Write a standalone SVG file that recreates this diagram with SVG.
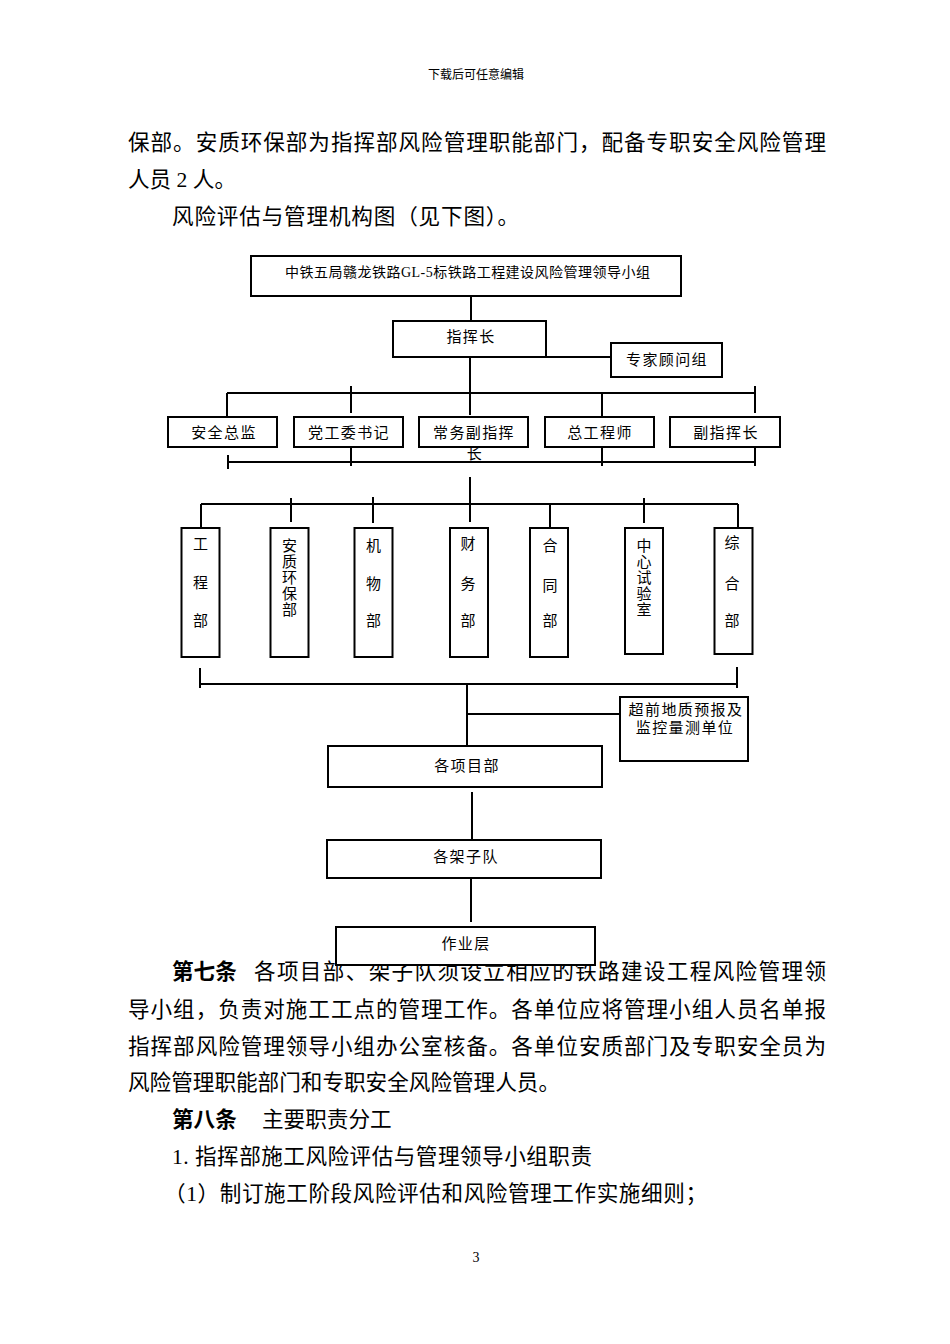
<svg xmlns="http://www.w3.org/2000/svg" width="950" height="1344" viewBox="0 0 950 1344">
<style>
.body{font-family:"Liberation Serif","Noto Sans CJK SC",serif;font-size:21.6px;fill:#000}
.bold{font-weight:bold}
.box{fill:#fff;stroke:#000;stroke-width:2}
.lbl{font-family:"Liberation Serif","Noto Sans CJK SC",serif;font-size:15px;letter-spacing:1.4px;fill:#000;text-anchor:middle}
.v{font-family:"Liberation Serif","Noto Sans CJK SC",serif;font-size:15px;fill:#000;text-anchor:middle}
#connectors line{stroke:#000;stroke-width:2}
</style>
<rect x="0" y="0" width="950" height="1344" fill="#fff"/>
<text x="476" y="79" font-family="Noto Sans CJK SC, sans-serif" font-size="12" text-anchor="middle">下载后可任意编辑</text>
<text class="body" x="128" y="150" textLength="698" lengthAdjust="spacing">保部。安质环保部为指挥部风险管理职能部门，配备专职安全风险管理</text>
<text class="body" x="128" y="187">人员 2 人。</text>
<text class="body" x="172" y="224" textLength="347" lengthAdjust="spacing">风险评估与管理机构图（见下图）。</text>

<g id="connectors">
<line x1="471" y1="296" x2="471" y2="321"/>
<line x1="470" y1="357" x2="470" y2="415"/>
<line x1="470" y1="357" x2="611" y2="357"/>
<line x1="227" y1="393" x2="755" y2="393"/>
<line x1="227" y1="393" x2="227" y2="417"/>
<line x1="351" y1="386" x2="351" y2="413"/>
<line x1="602" y1="393" x2="602" y2="417"/>
<line x1="755" y1="386" x2="755" y2="413"/>
<line x1="228" y1="462" x2="755" y2="462"/>
<line x1="228" y1="455" x2="228" y2="469"/>
<line x1="351" y1="447" x2="351" y2="466"/>
<line x1="602" y1="447" x2="602" y2="466"/>
<line x1="755" y1="447" x2="755" y2="466"/>
<line x1="470" y1="477" x2="470" y2="522"/>
<line x1="201" y1="504" x2="738" y2="504"/>
<line x1="201" y1="504" x2="201" y2="528"/>
<line x1="291" y1="498" x2="291" y2="522"/>
<line x1="373" y1="497" x2="373" y2="523"/>
<line x1="550" y1="504" x2="550" y2="528"/>
<line x1="644" y1="498" x2="644" y2="523"/>
<line x1="738" y1="504" x2="738" y2="528"/>
<line x1="200" y1="684" x2="737" y2="684"/>
<line x1="200" y1="668" x2="200" y2="688"/>
<line x1="737" y1="667" x2="737" y2="688"/>
<line x1="467" y1="684" x2="467" y2="746"/>
<line x1="467" y1="714" x2="620" y2="714"/>
<line x1="472" y1="792" x2="472" y2="840"/>
<line x1="471" y1="878" x2="471" y2="922"/>
</g>

<g id="n-top"><rect class="box" x="251" y="256" width="430" height="40"/>
<text x="285" y="277" font-family="Liberation Serif, Noto Sans CJK SC, serif" font-size="14" textLength="365" lengthAdjust="spacing">中铁五局赣龙铁路GL-5标铁路工程建设风险管理领导小组</text></g>
<g id="n-zhihuizhang"><rect class="box" x="393" y="321" width="153" height="36"/><text class="lbl" x="471" y="342">指挥长</text></g>
<g id="n-zhuanjia"><rect class="box" x="611" y="343" width="111" height="34"/><text class="lbl" x="667" y="365">专家顾问组</text></g>

<g id="n-anquan"><rect class="box" x="168" y="417" width="109" height="30"/><text class="lbl" x="224" y="438">安全总监</text></g>
<g id="n-danggong"><rect class="box" x="294" y="417" width="109" height="30"/><text class="lbl" x="349" y="438">党工委书记</text></g>
<g id="n-changwu"><rect class="box" x="419" y="417" width="109" height="30"/><text class="lbl" x="474" y="438">常务副指挥</text><text class="lbl" x="475" y="459">长</text></g>
<g id="n-zonggong"><rect class="box" x="545" y="417" width="109" height="30"/><text class="lbl" x="600" y="438">总工程师</text></g>
<g id="n-fuzhihui"><rect class="box" x="670" y="417" width="110" height="30"/><text class="lbl" x="726" y="438">副指挥长</text></g>

<g id="n-gongcheng"><rect class="box" x="181.5" y="528" width="38" height="129"/><text class="v"><tspan x="200.5" y="548.5">工</tspan><tspan x="200.5" y="587.5">程</tspan><tspan x="200.5" y="625.5">部</tspan></text></g>
<g id="n-anzhi"><rect class="box" x="270.5" y="528" width="38" height="129"/><text class="v"><tspan x="289.5" y="550.5">安</tspan><tspan x="289.5" y="566.5">质</tspan><tspan x="289.5" y="582.5">环</tspan><tspan x="289.5" y="598.5">保</tspan><tspan x="289.5" y="614.5">部</tspan></text></g>
<g id="n-jiwu"><rect class="box" x="354.5" y="528" width="38" height="129"/><text class="v"><tspan x="373.5" y="550.5">机</tspan><tspan x="373.5" y="588.5">物</tspan><tspan x="373.5" y="625.5">部</tspan></text></g>
<g id="n-caiwu"><rect class="box" x="450" y="528" width="38" height="129"/><text class="v"><tspan x="468" y="548.5">财</tspan><tspan x="468" y="588.5">务</tspan><tspan x="468" y="625.5">部</tspan></text></g>
<g id="n-hetong"><rect class="box" x="530" y="528" width="38" height="129"/><text class="v"><tspan x="550" y="550.5">合</tspan><tspan x="550" y="590.5">同</tspan><tspan x="550" y="625.5">部</tspan></text></g>
<g id="n-zhongxin"><rect class="box" x="625" y="528" width="38" height="126"/><text class="v"><tspan x="644" y="550.5">中</tspan><tspan x="644" y="566.5">心</tspan><tspan x="644" y="582.5">试</tspan><tspan x="644" y="598.5">验</tspan><tspan x="644" y="614.5">室</tspan></text></g>
<g id="n-zonghe"><rect class="box" x="714.5" y="528" width="38" height="126"/><text class="v"><tspan x="732" y="547.5">综</tspan><tspan x="732" y="588.5">合</tspan><tspan x="732" y="625.5">部</tspan></text></g>

<g id="n-chaoqian"><rect class="box" x="620" y="697" width="128" height="64"/><text class="lbl" x="686" y="715">超前地质预报及</text><text class="lbl" x="685" y="733">监控量测单位</text></g>
<g id="n-xiangmu"><rect class="box" x="328" y="746" width="274" height="41"/><text class="lbl" x="467" y="771">各项目部</text></g>
<g id="n-jiazi"><rect class="box" x="327" y="840" width="274" height="38"/><text class="lbl" x="466" y="862">各架子队</text></g>

<text class="body" x="172" y="979"><tspan class="bold">第七条</tspan></text>
<text class="body" x="254" y="979" textLength="572" lengthAdjust="spacing">各项目部、架子队须设立相应的铁路建设工程风险管理领</text>
<g id="n-zuoye"><rect class="box" x="336" y="927" width="259" height="38"/><text class="lbl" x="466" y="949">作业层</text></g>

<text class="body" x="128" y="1017" textLength="698" lengthAdjust="spacing">导小组，负责对施工工点的管理工作。各单位应将管理小组人员名单报</text>
<text class="body" x="128" y="1054" textLength="698" lengthAdjust="spacing">指挥部风险管理领导小组办公室核备。各单位安质部门及专职安全员为</text>
<text class="body" x="128" y="1090" textLength="432" lengthAdjust="spacing">风险管理职能部门和专职安全风险管理人员。</text>
<text class="body bold" x="172" y="1127">第八条</text>
<text class="body" x="262" y="1127">主要职责分工</text>
<text class="body" x="172" y="1164" textLength="420" lengthAdjust="spacing">1. 指挥部施工风险评估与管理领导小组职责</text>
<text class="body" x="164" y="1201" textLength="543" lengthAdjust="spacing">（1）制订施工阶段风险评估和风险管理工作实施细则；</text>
<text x="476" y="1262" font-family="Liberation Serif, serif" font-size="14" text-anchor="middle">3</text>
</svg>
